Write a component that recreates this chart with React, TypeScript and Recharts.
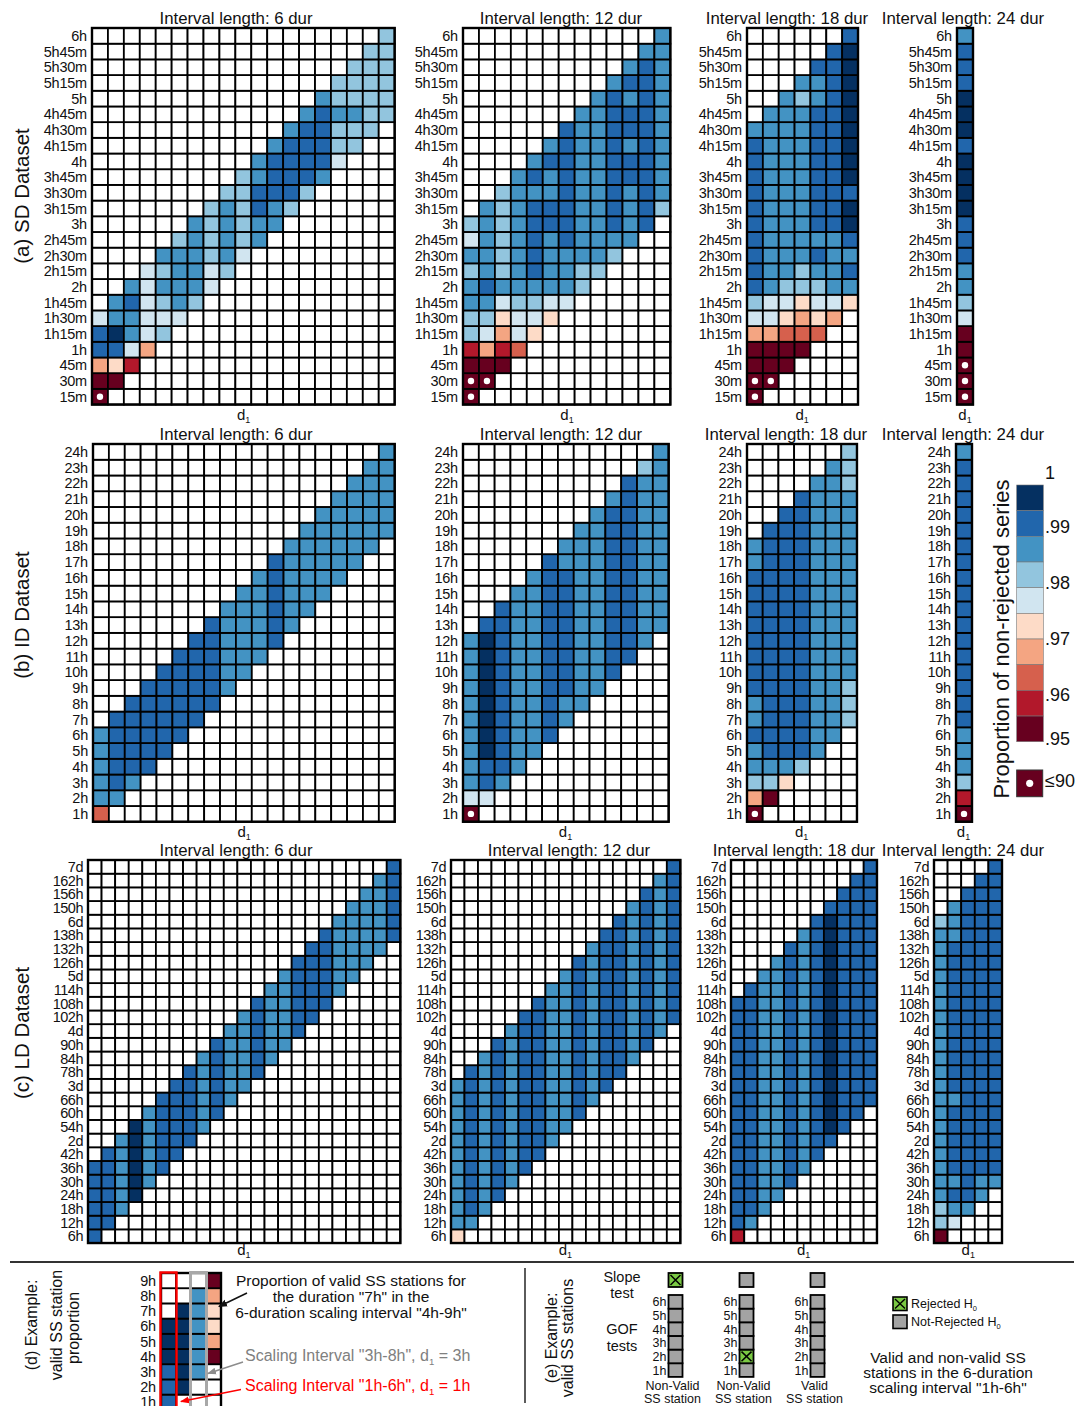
import { Scatter, ScatterChart, XAxis, YAxis } from 'recharts'

const FONT = '"Liberation Sans", Arial, Helvetica, sans-serif'

// cell classes: x = <=.90 (dot), 0..9 = the ten colour-bar bins from .95 up to 1, '.' = outside the interval
const BIN_COLORS: Record<string, string> = {
  x: '#67001f',
  '0': '#67001f',
  '1': '#b2182b',
  '2': '#d6604d',
  '3': '#f4a582',
  '4': '#fddbc7',
  '5': '#d1e5f0',
  '6': '#92c5de',
  '7': '#4393c3',
  '8': '#2166ac',
  '9': '#053061',
}
const barBins = ['9', '8', '7', '6', '5', '4', '3', '2', '1', '0']
const barTicks = ['1', '.99', '.98', '.97', '.96', '.95']

// duration labels, bottom to top
const sdLabels = ['15m', '30m', '45m', '1h', '1h15m', '1h30m', '1h45m', '2h', '2h15m', '2h30m', '2h45m', '3h',
  '3h15m', '3h30m', '3h45m', '4h', '4h15m', '4h30m', '4h45m', '5h', '5h15m', '5h30m', '5h45m', '6h']
const idLabels = ['1h', '2h', '3h', '4h', '5h', '6h', '7h', '8h', '9h', '10h', '11h', '12h',
  '13h', '14h', '15h', '16h', '17h', '18h', '19h', '20h', '21h', '22h', '23h', '24h']
const ldLabels = ['6h', '12h', '18h', '24h', '30h', '36h', '42h', '2d', '54h', '60h', '66h', '3d', '78h', '84h',
  '90h', '4d', '102h', '108h', '114h', '5d', '126h', '132h', '138h', '6d', '150h', '156h', '162h', '7d']

// one string per d1 column, read from d1 upwards
const sd6 = ['x03885', '048977', '157787', '355555', '656767', '577776', '677777', '556666', '677776', '566666',
  '778877', '778887', '688887', '688887', '788887', '566766', '667666', '666666', '666666']
const sd12 = ['xx0166776756', 'x03567877777', '013457666666', '255677777777', '456788888787', '457777887787',
  '577788888888', '667777777777', '677777777777', '678888888887', '777788788787', '888888888887', '677777777777']
const sd18 = ['xx0035688888888887', 'x00355777777777777', '002456777777777777', '023466777777777767',
  '245678788888888778', '357777888888888888', '478789989999999998']
const sd24 = ['xxx005677888999989998887']

const id6 = ['277777', '788888', '788888', '888888', '888888', '888888', '888888', '888888', '777777', '777777',
  '777777', '888888', '777777', '777777', '777777', '777777', '777777', '777777', '777777']
const id12 = ['x57777777777', '588999999998', '788888888888', '777777777777', '777777777777', '888888888888',
  '778888888877', '777777777777', '777777777777', '888888888887', '888888888888', '777777777776', '777777777777']
const id18 = ['x36778778888888877', '067888888888888888', '478888888888888888', '688888888888888888',
  '777777777777777777', '777777777777777777', '666777777777777666']
const id24 = ['x16777888888888888888887']

const ld6 = ['888888', '888888', '777777', '999999', '777777', '888888', '888888', '888888', '777777', '888888',
  '777777', '777777', '888888', '777777', '777777', '888888', '888888', '888888', '777777', '777777', '777777',
  '777777', '888888']
const ld12 = ['477777777777', '788888888888', '777777777777', '888888888888', '777777777777', '888888888888',
  '888888888888', '777777777777', '777777777777', '888888888888', '777777777777', '888888888888', '888888888888',
  '777777777777', '888888888888', '777777777777', '888888888888']
const ld18 = ['188888888888888888', '788888888888888888', '777777777777777777', '777777777777777777',
  '888888888888888888', '777777777777777777', '888888888888888888', '899999999999999998', '888888888888888888',
  '888888888888888888', '888888888888888888']
const ld24 = ['066777777777777777777776', '578788888788888888888777', '788888888888888888888888',
  '778888888888888888888888', '788888888888888888888888']

// (d) example grid
const exLabels = ['1h', '2h', '3h', '4h', '5h', '6h', '7h', '8h', '9h']
const exCols = ['888999', '999999', '777777', '034430']

// (e) example stations: R = rejected, N = not rejected
const gofLabels = ['1h', '2h', '3h', '4h', '5h', '6h']
const stationNames = [['Non-Valid', 'SS station'], ['Non-Valid', 'SS station'], ['Valid', 'SS station']]
const slopeTest = ['R', 'N', 'N']
const gofTests = ['NNNNNN', 'NRNNNN', 'NNNNNN']

interface PanelDef {
  cols: string[]
  span: number
  labels: string[]
  left: number
  top: number
  cw: number
  ch: number
  titleX: number
  titleY: number
  subY: number
  spacing?: number
}

const panels: PanelDef[] = [
  { cols: sd6, span: 6, labels: sdLabels, left: 92.3, top: 27.7, cw: 15.93, ch: 15.69, titleX: 236, titleY: 24, subY: 420 },
  { cols: sd12, span: 12, labels: sdLabels, left: 463.3, top: 27.7, cw: 15.95, ch: 15.69, titleX: 561, titleY: 24, subY: 420 },
  { cols: sd18, span: 18, labels: sdLabels, left: 746.7, top: 27.7, cw: 15.86, ch: 15.69, titleX: 787, titleY: 24, subY: 420 },
  { cols: sd24, span: 24, labels: sdLabels, left: 957, top: 27.7, cw: 16, ch: 15.69, titleX: 963, titleY: 24, subY: 420 },
  { cols: id6, span: 6, labels: idLabels, left: 93.3, top: 444, cw: 15.88, ch: 15.74, titleX: 236, titleY: 440, subY: 837 },
  { cols: id12, span: 12, labels: idLabels, left: 462.7, top: 444, cw: 15.82, ch: 15.74, titleX: 561, titleY: 440, subY: 837 },
  { cols: id18, span: 18, labels: idLabels, left: 746.7, top: 444, cw: 15.71, ch: 15.74, titleX: 786, titleY: 440, subY: 837 },
  { cols: id24, span: 24, labels: idLabels, left: 955.5, top: 444, cw: 16, ch: 15.74, titleX: 963, titleY: 440, subY: 837 },
  { cols: ld6, span: 6, labels: ldLabels, left: 87.7, top: 860, cw: 13.58, ch: 13.68, titleX: 236, titleY: 856, subY: 1255, spacing: -0.5 },
  { cols: ld12, span: 12, labels: ldLabels, left: 450.7, top: 860, cw: 13.49, ch: 13.68, titleX: 569, titleY: 856, subY: 1255, spacing: -0.5 },
  { cols: ld18, span: 18, labels: ldLabels, left: 730.7, top: 860, cw: 13.27, ch: 13.68, titleX: 794, titleY: 856, subY: 1255, spacing: -0.5 },
  { cols: ld24, span: 24, labels: ldLabels, left: 934.3, top: 860, cw: 13.6, ch: 13.68, titleX: 963, titleY: 856, subY: 1255, spacing: -0.5 },
]

function cellShape(cw: number, ch: number) {
  return (p: any) => {
    const { cx, cy, payload } = p
    if (cx == null || cy == null) return <g />
    const v: string = payload.v
    return (
      <g>
        <rect x={cx - cw / 2} y={cy - ch / 2} width={cw} height={ch}
          fill={v === '.' ? '#ffffff' : BIN_COLORS[v]} stroke="#000" strokeWidth={1.8} />
        {v === 'x' ? <circle cx={cx} cy={cy} r={3.2} fill="#fff" /> : null}
      </g>
    )
  }
}

interface Outline { col: number; color: string; w: number }

function HeatPanel({ cols, span, labels, left, top, cw, ch, spacing = -0.2, outlines = [] }: {
  cols: string[]; span: number; labels: string[]; left: number; top: number; cw: number; ch: number
  spacing?: number; outlines?: Outline[]
}) {
  const axisW = 70
  const pad = 3
  const nCols = cols.length
  const nRows = labels.length
  const cells: { x: number; y: number; v: string }[] = []
  for (let c = 0; c < nCols; c++) {
    for (let r = 0; r < nRows; r++) {
      const k = r - c
      cells.push({ x: c, y: r, v: k >= 0 && k < span ? cols[c][k] : '.' })
    }
  }
  const plotW = nCols * cw
  const plotH = nRows * ch
  const ticks = labels.map((_, i) => i)
  const frameShape = (p: any) => (
    <rect x={p.cx - plotW / 2} y={p.cy - plotH / 2} width={plotW} height={plotH} fill="none" stroke="#000" strokeWidth={2.4} />
  )
  const outlineShape = (p: any) => (
    <rect x={p.cx - cw / 2 - 0.5} y={p.cy - plotH / 2 - 0.5} width={cw + 1} height={plotH + 12}
      fill="none" stroke={p.payload.color} strokeWidth={p.payload.w} />
  )
  return (
    <div style={{ position: 'absolute', left: left - axisW, top: top - pad }}>
      <ScatterChart width={axisW + plotW + pad} height={plotH + 2 * pad} margin={{ top: pad, right: pad, bottom: pad, left: 0 }}>
        <XAxis type="number" dataKey="x" domain={[-0.5, nCols - 0.5]} hide />
        <YAxis type="number" dataKey="y" domain={[-0.5, nRows - 0.5]} ticks={ticks} interval={0} width={axisW}
          axisLine={false} tickLine={false} tickSize={0} tickMargin={5}
          tickFormatter={(i: number) => labels[i]}
          tick={{ fontSize: 14.5, fill: '#111', fontFamily: FONT, letterSpacing: spacing }} />
        <Scatter data={cells} shape={cellShape(cw, ch)} isAnimationActive={false} />
        <Scatter data={[{ x: (nCols - 1) / 2, y: (nRows - 1) / 2 }]} shape={frameShape} isAnimationActive={false} />
        {outlines.length > 0 ? (
          <Scatter data={outlines.map((o) => ({ x: o.col, y: (nRows - 1) / 2, color: o.color, w: o.w }))}
            shape={outlineShape} isAnimationActive={false} />
        ) : null}
      </ScatterChart>
    </div>
  )
}

function TestBoxes({ results, top, rowH, labels, names }: {
  results: string[]; top: number; rowH: number; labels?: string[]; names?: string[][]
}) {
  const left = 640
  const plotW = 213
  const nRows = results[0].length
  const plotH = nRows * rowH
  const data: { x: number; y: number; v: string; label: string }[] = []
  results.forEach((s, i) => {
    s.split('').forEach((v, r) => data.push({ x: i, y: r, v, label: labels ? labels[r] : '' }))
  })
  const boxShape = (p: any) => {
    const { cx, cy, payload } = p
    const x0 = cx - 7
    const y0 = cy - rowH / 2
    const rej = payload.v === 'R'
    return (
      <g>
        <rect x={x0} y={y0} width={14} height={rowH} fill={rej ? '#7ac943' : '#a3a3a3'} stroke="#000" strokeWidth={1.8} />
        {rej ? (
          <path d={`M${x0 + 2},${y0 + 2}L${x0 + 12},${y0 + rowH - 2}M${x0 + 12},${y0 + 2}L${x0 + 2},${y0 + rowH - 2}`}
            stroke="#000" strokeWidth={1.5} />
        ) : null}
        {payload.label ? (
          <text x={x0 - 2} y={cy + 4.5} textAnchor="end" fontSize={12.5} fontFamily={FONT} fill="#111">{payload.label}</text>
        ) : null}
      </g>
    )
  }
  const nameTick = (p: any) => {
    const n = names ? names[p.payload.value] : ['', '']
    return (
      <g>
        <text x={p.x - 3} y={p.y + 13.5} textAnchor="middle" fontSize={12.5} fontFamily={FONT} fill="#111">{n[0]}</text>
        <text x={p.x - 3} y={p.y + 26} textAnchor="middle" fontSize={12.5} fontFamily={FONT} fill="#111">{n[1]}</text>
      </g>
    )
  }
  return (
    <div style={{ position: 'absolute', left, top: top - 2 }}>
      <ScatterChart width={plotW} height={plotH + 2 + (names ? 32 : 2)}
        margin={{ top: 2, right: 0, bottom: names ? 0 : 2, left: 0 }}>
        <XAxis type="number" dataKey="x" domain={[-0.5, 2.5]} hide={!names} ticks={[0, 1, 2]} interval={0}
          axisLine={false} tickLine={false} tickSize={0} tickMargin={0} height={32} tick={nameTick} />
        <YAxis type="number" dataKey="y" domain={[-0.5, nRows - 0.5]} hide />
        <Scatter data={data} shape={boxShape} isAnimationActive={false} />
      </ScatterChart>
    </div>
  )
}

function Sub({ base, sub, size }: { base: string; sub: string; size: number }) {
  return (
    <>
      {base}
      <tspan fontSize={size * 0.6} dy={size * 0.22}>{sub}</tspan>
    </>
  )
}

function Overlay() {
  const barTop = 485
  const binH = 25.67
  const tickYs = [478.5, 533, 589, 644.5, 701, 744.5]
  return (
    <svg width={1078} height={1406} style={{ position: 'absolute', left: 0, top: 0, pointerEvents: 'none' }}
      fontFamily={FONT} fill="#111">
      <defs>
        <marker id="ak" markerWidth={9} markerHeight={8} refX={8} refY={4} orient="auto" markerUnits="userSpaceOnUse">
          <path d="M0,0.5 L9,4 L0,7.5 z" fill="#111" />
        </marker>
        <marker id="ag" markerWidth={9} markerHeight={8} refX={8} refY={4} orient="auto" markerUnits="userSpaceOnUse">
          <path d="M0,0.5 L9,4 L0,7.5 z" fill="#8c8c8c" />
        </marker>
        <marker id="ar" markerWidth={9} markerHeight={8} refX={8} refY={4} orient="auto" markerUnits="userSpaceOnUse">
          <path d="M0,0.5 L9,4 L0,7.5 z" fill="#ff0000" />
        </marker>
      </defs>

      {panels.map((p, i) => (
        <g key={i}>
          <text x={p.titleX} y={p.titleY} textAnchor="middle" fontSize={16.8}>{`Interval length: ${p.span} dur`}</text>
          <text x={p.left + (p.cols.length * p.cw) / 2} y={p.subY} textAnchor="middle" fontSize={15}>
            <Sub base="d" sub="1" size={15} />
          </text>
        </g>
      ))}

      <text transform="translate(28.5,196) rotate(-90)" textAnchor="middle" fontSize={20.5}>(a) SD Dataset</text>
      <text transform="translate(28.5,615) rotate(-90)" textAnchor="middle" fontSize={20.5}>(b) ID Dataset</text>
      <text transform="translate(28.5,1033) rotate(-90)" textAnchor="middle" fontSize={20.5}>(c) LD Dataset</text>

      {/* colour bar */}
      {barBins.map((b, i) => (
        <rect key={b} x={1016.7} y={barTop + i * binH} width={26.6} height={binH} fill={BIN_COLORS[b]}
          stroke="#777" strokeWidth={0.6} />
      ))}
      {barTicks.map((t, i) => (
        <text key={t} x={1045} y={tickYs[i]} fontSize={18}>{t}</text>
      ))}
      <rect x={1016.7} y={770} width={26} height={26.7} fill="#67001f" stroke="#333" strokeWidth={1} />
      <circle cx={1029.7} cy={783.3} r={3.6} fill="#fff" />
      <text x={1045} y={786.5} fontSize={18}>≤90</text>
      <text transform="translate(1008.5,639) rotate(-90)" textAnchor="middle" fontSize={22}>
        Proportion of non-rejected series
      </text>

      {/* separators */}
      <line x1={10} y1={1262} x2={1074} y2={1262} stroke="#333" strokeWidth={2.2} />
      <line x1={525} y1={1268} x2={525} y2={1403} stroke="#333" strokeWidth={1.6} />

      {/* (d) */}
      <g fontSize={16}>
        <text transform="translate(37,1325) rotate(-90)" textAnchor="middle">(d) Example:</text>
        <text transform="translate(61.5,1325) rotate(-90)" textAnchor="middle">valid SS station</text>
        <text transform="translate(79,1328) rotate(-90)" textAnchor="middle">proportion</text>
      </g>
      <g fontSize={15.5} textAnchor="middle">
        <text x={351} y={1286}>Proportion of valid SS stations for</text>
        <text x={351} y={1302}>the duration "7h" in the</text>
        <text x={351} y={1318}>6-duration scaling interval "4h-9h"</text>
      </g>
      <line x1={247} y1={1293} x2={219} y2={1306.5} stroke="#111" strokeWidth={1.5} markerEnd="url(#ak)" />
      <text x={245} y={1361} fontSize={16} fill="#808080">
        Scaling Interval "3h-8h", <Sub base="d" sub="1" size={16} />
        <tspan dy={-3.5}> = 3h</tspan>
      </text>
      <line x1={243} y1={1362} x2={208} y2={1373.5} stroke="#8c8c8c" strokeWidth={1.5} markerEnd="url(#ag)" />
      <text x={245} y={1391} fontSize={16} fill="#ff0000">
        Scaling Interval "1h-6h", <Sub base="d" sub="1" size={16} />
        <tspan dy={-3.5}> = 1h</tspan>
      </text>
      <line x1={241} y1={1389.5} x2={181} y2={1401.5} stroke="#ff0000" strokeWidth={1.5} markerEnd="url(#ar)" />

      {/* (e) */}
      <g fontSize={16}>
        <text transform="translate(557,1338) rotate(-90)" textAnchor="middle">(e) Example:</text>
        <text transform="translate(573,1338) rotate(-90)" textAnchor="middle">valid SS stations</text>
      </g>
      <g fontSize={14.5} textAnchor="middle">
        <text x={622} y={1282}>Slope</text>
        <text x={622} y={1298}>test</text>
        <text x={622} y={1334}>GOF</text>
        <text x={622} y={1351}>tests</text>
      </g>
      <rect x={893} y={1297} width={14} height={13.5} fill="#7ac943" stroke="#000" strokeWidth={1.6} />
      <path d="M895,1299L905,1308.5M905,1299L895,1308.5" stroke="#000" strokeWidth={1.4} />
      <text x={911} y={1308} fontSize={12.5}><Sub base="Rejected H" sub="0" size={12.5} /></text>
      <rect x={893} y={1315} width={14} height={13.5} fill="#a3a3a3" stroke="#000" strokeWidth={1.6} />
      <text x={911} y={1326} fontSize={12.5}><Sub base="Not-Rejected H" sub="0" size={12.5} /></text>
      <g fontSize={15.5} textAnchor="middle">
        <text x={948} y={1363}>Valid and non-valid SS</text>
        <text x={948} y={1378}>stations in the 6-duration</text>
        <text x={948} y={1393}>scaling interval "1h-6h"</text>
      </g>
    </svg>
  )
}

export default function App() {
  return (
    <div style={{ position: 'absolute', left: 0, top: 0, width: 1078, height: 1406, overflow: 'hidden', background: '#fff', fontFamily: FONT }}>
      {panels.map((p, i) => (
        <HeatPanel key={i} cols={p.cols} span={p.span} labels={p.labels} left={p.left} top={p.top} cw={p.cw} ch={p.ch}
          spacing={p.spacing} />
      ))}
      <HeatPanel cols={exCols} span={6} labels={exLabels} left={161} top={1273} cw={15} ch={15.2}
        outlines={[{ col: 0, color: '#ff0000', w: 2.4 }, { col: 2, color: '#a8a8a8', w: 3 }]} />
      <TestBoxes results={slopeTest} top={1273} rowH={14} />
      <TestBoxes results={gofTests} top={1295} rowH={13.65} labels={gofLabels} names={stationNames} />
      <Overlay />
    </div>
  )
}
